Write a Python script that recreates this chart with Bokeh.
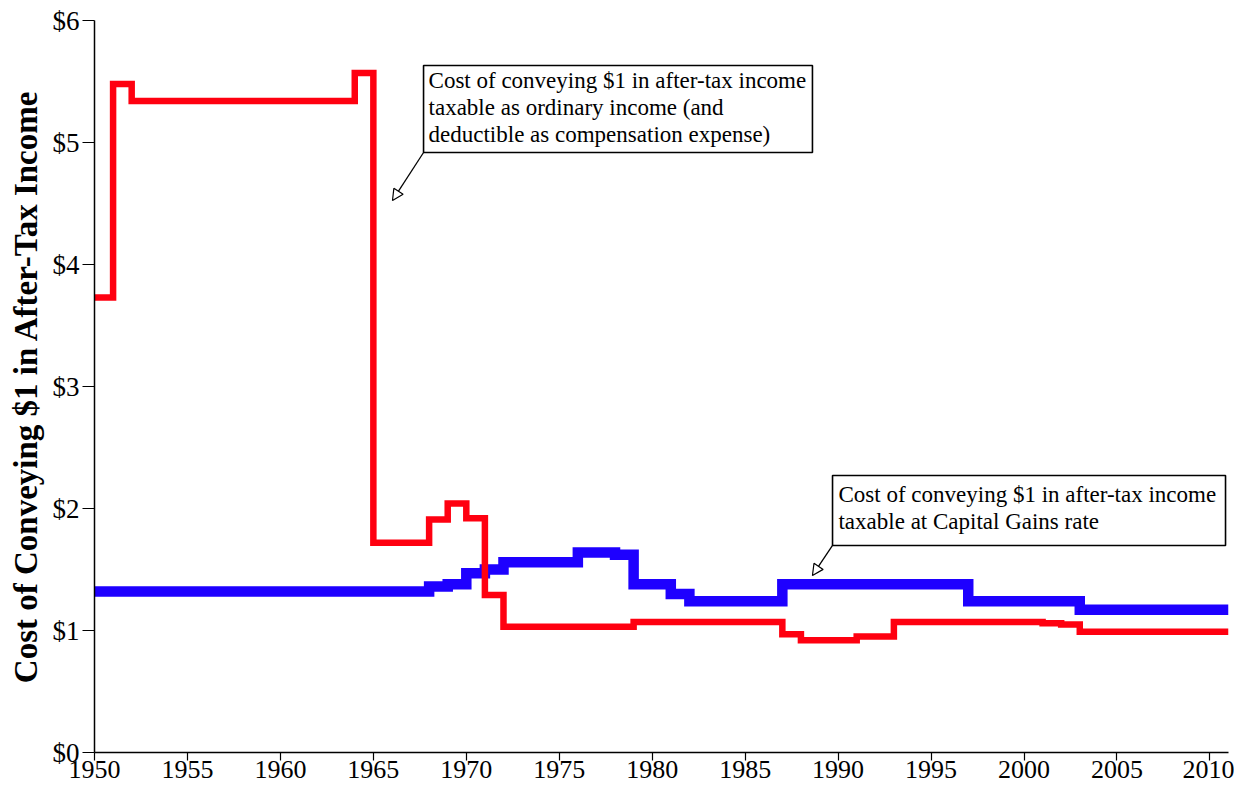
from bokeh.plotting import figure
from bokeh.models import (Range1d, FixedTicker, PrintfTickFormatter, BoxAnnotation,
                          Label, Arrow, NormalHead)
from bokeh.embed import file_html
from bokeh.resources import INLINE

# --- data (step series: value holds from year until next year) ---
ordinary_years = [1950, 1951, 1952, 1964, 1965, 1968, 1969, 1970, 1971, 1972, 1979,
                  1987, 1988, 1991, 1993, 2001, 2002, 2003]
ordinary_cost = [3.73, 5.48, 5.34, 5.57, 1.72, 1.91, 2.04, 1.92, 1.29, 1.03, 1.07,
                 0.97, 0.92, 0.95, 1.07, 1.06, 1.05, 0.99]

capgains_years = [1950, 1968, 1969, 1970, 1971, 1972, 1976, 1978, 1979, 1981, 1982,
                  1987, 1997, 2003]
capgains_cost = [1.32, 1.36, 1.38, 1.47, 1.50, 1.56, 1.64, 1.62, 1.38, 1.30, 1.24,
                 1.38, 1.24, 1.17]

end_year = 2011
x_ticks = [1950, 1955, 1960, 1965, 1970, 1975, 1980, 1985, 1990, 1995, 2000, 2005, 2010]
y_ticks = [0, 1, 2, 3, 4, 5, 6]

ann1_lines = ["Cost of conveying $1 in after-tax income",
              "taxable as ordinary income (and",
              "deductible as compensation expense)"]
ann2_lines = ["Cost of conveying $1 in after-tax income",
              "taxable at Capital Gains rate"]
y_title = "Cost of Conveying $1 in After-Tax Income"

FONT = "Liberation Serif"

p = figure(width=1234, height=788, output_backend="svg", toolbar_location=None,
           x_range=Range1d(1950, end_year), y_range=Range1d(0, 6),
           min_border_left=94, min_border_right=6, min_border_top=20, min_border_bottom=36)
p.outline_line_color = None
p.grid.visible = False
p.background_fill_color = "white"
p.border_fill_color = "white"

for ax in (p.xaxis[0], p.yaxis[0]):
    ax.axis_line_color = "black"
    ax.axis_line_width = 1.5
    ax.major_tick_line_color = "black"
    ax.major_tick_line_width = 1.2
    ax.major_tick_in = 0
    ax.minor_tick_line_color = None
    ax.major_label_text_font = FONT
    ax.major_label_text_color = "black"

p.xaxis[0].ticker = FixedTicker(ticks=x_ticks)
p.xaxis[0].major_tick_out = 8
p.xaxis[0].major_label_standoff = 0
p.xaxis[0].major_label_text_font_size = "26px"

p.yaxis[0].ticker = FixedTicker(ticks=y_ticks)
p.yaxis[0].formatter = PrintfTickFormatter(format="$%d")
p.yaxis[0].major_tick_out = 12
p.yaxis[0].major_label_standoff = 3
p.yaxis[0].major_label_text_font_size = "27px"
p.yaxis[0].axis_label = y_title
p.yaxis[0].axis_label_text_font = FONT
p.yaxis[0].axis_label_text_font_style = "bold"
p.yaxis[0].axis_label_text_font_size = "33px"
p.yaxis[0].axis_label_text_color = "black"
p.yaxis[0].axis_label_standoff = 6

cg_x = capgains_years + [end_year]
cg_y = capgains_cost + [capgains_cost[-1]]
or_x = ordinary_years + [end_year]
or_y = ordinary_cost + [ordinary_cost[-1]]

p.step(cg_x, cg_y, mode="after", line_color="#1e00ff", line_width=10.5, line_join="miter")
p.step(or_x, or_y, mode="after", line_color="#ff0010", line_width=6.5, line_join="miter")

# --- annotations ---
def add_box(left, right, top, bottom, lines, text_x, text_y0, dy, arrow_end):
    p.add_layout(BoxAnnotation(left=left, right=right, top=top, bottom=bottom,
                               fill_color=None, fill_alpha=0, line_color="black",
                               line_alpha=1.0, line_width=1.6))
    for i, t in enumerate(lines):
        p.add_layout(Label(x=text_x, y=text_y0 - i * dy, text=t, text_font=FONT,
                           text_font_size="23px", text_color="black",
                           text_baseline="middle", text_align="left"))
    p.add_layout(Arrow(x_start=left, y_start=bottom, x_end=arrow_end[0], y_end=arrow_end[1],
                       line_color="black", line_width=1.3,
                       end=NormalHead(size=11, fill_color="white", line_color="black",
                                      line_width=1.2)))

add_box(1967.70, 1988.62, 5.631, 4.918, ann1_lines, 1967.97, 5.508, 0.221, (1966.03, 4.525))
add_box(1989.70, 2010.84, 2.270, 1.697, ann2_lines, 1990.02, 2.115, 0.221, (1988.62, 1.451))

open("out.html", "w").write(file_html(p, INLINE))
